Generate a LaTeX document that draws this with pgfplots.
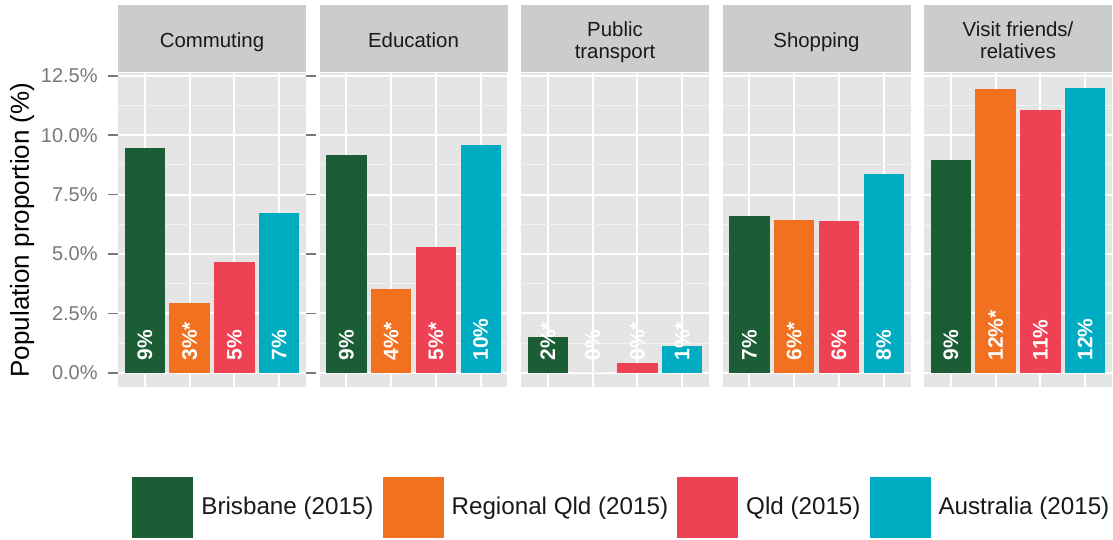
\documentclass[border=0pt]{standalone}
\usepackage{pgfplots}
\pgfplotsset{compat=1.18}
\usepackage{fontspec}
\setmainfont{Liberation Sans}

\definecolor{panelbg}{RGB}{229,229,229}
\definecolor{stripbg}{RGB}{204,204,204}
\definecolor{minorgrid}{RGB}{242,242,242}
\definecolor{tickgray}{RGB}{120,120,120}
\definecolor{cBris}{RGB}{27,94,54}
\definecolor{cReg}{RGB}{242,113,33}
\definecolor{cQld}{RGB}{239,65,84}
\definecolor{cAus}{RGB}{0,172,193}

% struts to place strip text like ggplot does
\newcommand{\topstrut}{\rule{0pt}{12pt}}
\newcommand{\botstrut}{\rule[-3pt]{0pt}{3pt}}

\pgfplotsset{
  every axis title/.style={at={(0.5,1)}, anchor=south, yshift=0.5pt, fill=stripbg,
      minimum width=94pt, minimum height=33.5pt, inner sep=0pt, align=center,
      text=black!90, font=\fontsize{10.2}{11}\selectfont},
  facet/.style={
    width=94pt, height=157pt, scale only axis, anchor=south west,
    xmin=0.4, xmax=4.6, ymin=-0.6, ymax=12.62,
    ybar, bar width=0.9, bar shift=0pt,
    axis line style={draw=none},
    axis background/.style={fill=panelbg},
    xtick={1,2,3,4}, xticklabels={}, xmajorticks=false,
    ytick={0,2.5,5,7.5,10,12.5},
    minor ytick={1.25,3.75,6.25,8.75,11.25},
    minor tick length=0pt,
    grid=both,
    major grid style={white, line width=1pt},
    minor grid style={minorgrid, line width=0.5pt},
    yticklabels={}, ytick style={draw=none},
  },
  lbl/.style={draw=none, fill=none, forget plot, nodes near coords,
    point meta=explicit symbolic,
    nodes near coords style={rotate=90, anchor=west, inner sep=0pt,
      text=white, font=\bfseries\fontsize{10.5}{12}\selectfont}},
}

\begin{document}
\begin{tikzpicture}
\useasboundingbox (0,0) rectangle (556.5pt,270pt);

% Commuting (with y axis and legend)
\begin{axis}[facet, at={(59pt,76.5pt)}, title={\topstrut\botstrut Commuting},
    ytick style={draw=tickgray, line width=0.8pt},
    major tick length=5pt, ytick align=outside,
    yticklabel={\pgfmathprintnumber[fixed,fixed zerofill,precision=1]{\tick}\%},
    yticklabel style={text=tickgray, inner sep=0pt, xshift=-5pt,
      font=\fontsize{10}{12}\selectfont, /pgf/number format/assume math mode=true},
    ylabel={Population proportion (\%)},
    ylabel style={at={(axis description cs:-0.51,0.5)}, anchor=center, rotate=0,
      font=\fontsize{13}{15}\selectfont},
    legend columns=4,
    legend image code/.code={\fill[#1] (0pt,-15.25pt) rectangle (30.5pt,15.25pt);},
    legend style={at={(axis description cs:0.0745,-0.3838)}, anchor=west,
      draw=none, fill=none, inner sep=0pt, nodes={inner sep=0pt},
      font=\fontsize{12.1}{14}\selectfont, text=black!90,
      /tikz/every odd column/.append style={column sep=4pt},
      /tikz/every even column/.append style={column sep=4.5pt}},
  ]
  \addplot[fill=cBris, draw=none] coordinates {(1,9.45)};
  \addlegendentry{Brisbane (2015)}
  \addplot[fill=cReg, draw=none] coordinates {(2,2.92)};
  \addlegendentry{Regional Qld (2015)}
  \addplot[fill=cQld, draw=none] coordinates {(3,4.65)};
  \addlegendentry{Qld (2015)}
  \addplot[fill=cAus, draw=none] coordinates {(4,6.74)};
  \addlegendentry{Australia (2015)}
  \addplot[lbl] coordinates {(1,0.5) [9\%] (2,0.5) [3\%*] (3,0.5) [5\%] (4,0.5) [7\%]};
\end{axis}

% Education
\begin{axis}[facet, at={(159.75pt,76.5pt)}, title={\topstrut\botstrut Education}]
  \addplot[fill=cBris, draw=none] coordinates {(1,9.16)};
  \addplot[fill=cReg, draw=none] coordinates {(2,3.54)};
  \addplot[fill=cQld, draw=none] coordinates {(3,5.30)};
  \addplot[fill=cAus, draw=none] coordinates {(4,9.58)};
  \addplot[lbl] coordinates {(1,0.5) [9\%] (2,0.5) [4\%*] (3,0.5) [5\%*] (4,0.5) [10\%]};
\end{axis}

% Public transport
\begin{axis}[facet, at={(260.5pt,76.5pt)}, title={\topstrut Public\\\botstrut transport}]
  \addplot[fill=cBris, draw=none] coordinates {(1,1.52)};
  \addplot[fill=cReg, draw=none] coordinates {(2,0)};
  \addplot[fill=cQld, draw=none] coordinates {(3,0.41)};
  \addplot[fill=cAus, draw=none] coordinates {(4,1.11)};
  \addplot[lbl] coordinates {(1,0.5) [2\%*] (2,0.5) [0\%] (3,0.5) [0\%*] (4,0.5) [1\%*]};
\end{axis}

% Shopping
\begin{axis}[facet, at={(361.25pt,76.5pt)}, title={\topstrut\botstrut Shopping}]
  \addplot[fill=cBris, draw=none] coordinates {(1,6.58)};
  \addplot[fill=cReg, draw=none] coordinates {(2,6.42)};
  \addplot[fill=cQld, draw=none] coordinates {(3,6.40)};
  \addplot[fill=cAus, draw=none] coordinates {(4,8.35)};
  \addplot[lbl] coordinates {(1,0.5) [7\%] (2,0.5) [6\%*] (3,0.5) [6\%] (4,0.5) [8\%]};
\end{axis}

% Visit friends/relatives
\begin{axis}[facet, at={(462pt,76.5pt)}, title={\topstrut Visit friends/\\\botstrut relatives}]
  \addplot[fill=cBris, draw=none] coordinates {(1,8.97)};
  \addplot[fill=cReg, draw=none] coordinates {(2,11.93)};
  \addplot[fill=cQld, draw=none] coordinates {(3,11.05)};
  \addplot[fill=cAus, draw=none] coordinates {(4,12.00)};
  \addplot[lbl] coordinates {(1,0.5) [9\%] (2,0.5) [12\%*] (3,0.5) [11\%] (4,0.5) [12\%]};
\end{axis}
\end{tikzpicture}
\end{document}
